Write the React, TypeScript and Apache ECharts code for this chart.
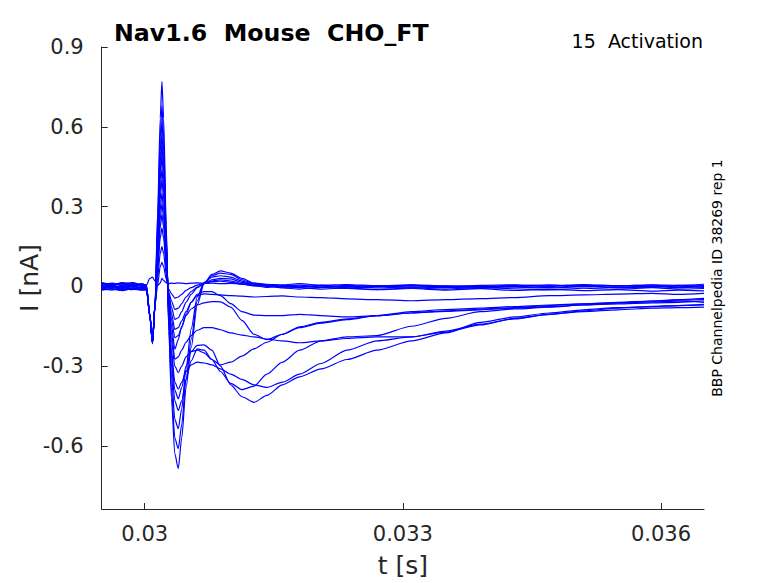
import React, { useEffect, useRef } from "react";
import * as echarts from "echarts";

// time grid in milliseconds
const T_MS = [
  29.5, 29.62, 29.74, 29.86, 29.97,
  30.02, 30.06, 30.09, 30.12, 30.15,
  30.18, 30.2, 30.22, 30.25, 30.28,
  30.31, 30.35, 30.39, 30.43, 30.48,
  30.54, 30.61, 30.69, 30.78, 30.88,
  31.0, 31.13, 31.27, 31.42, 31.6,
  31.8, 32.05, 32.35, 32.7, 33.1,
  33.5, 33.9, 34.3, 34.7, 35.1,
  35.5, 35.9, 36.2, 36.5,
];

// currents in nA, one array per sweep
const TRACE_01 = [
  0.01, 0.006, 0.012, 0.004, 0.008,
  0.005, 0.03, 0.035, 0.02, 0.004,
  0.012, 0.03, 0.022, 0.014, 0.01,
  0.012, 0.011, 0.013, 0.012, 0.01,
  0.012, 0.013, 0.011, 0.012, 0.01,
  0.011, 0.009, 0.012, 0.008, 0.006,
  0.01, 0.004, 0.007, 0.002, 0.005,
  0.0, 0.004, 0.006, 0.002, 0.005,
  0.001, 0.006, 0.004, 0.008,
];
const TRACE_02 = [
  -0.004, 0.002, -0.006, 0.0, -0.008,
  -0.004, -0.11, -0.205, -0.07, 0.006,
  0.074, 0.09, 0.074, 0.027, -0.011,
  -0.027, -0.044, -0.04, -0.03, -0.015,
  -0.005, 0.005, 0.012, 0.018, 0.02,
  0.015, 0.008, 0.002, 0.002, -0.003,
  0.001, -0.004, 0.0, -0.006, -0.002,
  -0.005, 0.001, -0.003, -0.006, -0.001,
  -0.004, 0.0, -0.005, -0.002,
];
const TRACE_03 = [
  0.006, 0.012, 0.004, 0.01, 0.002,
  0.0, -0.112, -0.212, -0.068, 0.03,
  0.123, 0.15, 0.123, 0.045, -0.022,
  -0.054, -0.087, -0.082, -0.065, -0.04,
  -0.02, -0.003, 0.01, 0.02, 0.025,
  0.02, 0.01, 0.003, -0.004, 0.003,
  -0.002, 0.005, -0.006, -0.001, 0.004,
  -0.003, -0.008, 0.0, -0.004, 0.003,
  -0.006, -0.002, 0.002, -0.004,
];
const TRACE_04 = [
  -0.01, -0.004, -0.012, -0.006, -0.01,
  -0.008, -0.108, -0.208, -0.072, 0.058,
  0.18, 0.22, 0.18, 0.066, -0.031,
  -0.077, -0.124, -0.118, -0.095, -0.06,
  -0.03, -0.005, 0.012, 0.025, 0.03,
  0.028, 0.015, 0.005, 0.0, -0.006,
  -0.01, -0.004, -0.008, -0.012, -0.006,
  -0.01, -0.004, -0.009, -0.013, -0.007,
  -0.011, -0.005, -0.01, -0.008,
];
const TRACE_05 = [
  0.002, -0.006, 0.0, -0.008, -0.002,
  -0.006, -0.114, -0.215, -0.066, 0.078,
  0.221, 0.27, 0.221, 0.081, -0.04,
  -0.1, -0.162, -0.155, -0.13, -0.095,
  -0.06, -0.035, -0.028, -0.03, -0.032,
  -0.035, -0.037, -0.04, -0.038, -0.036,
  -0.04, -0.042, -0.047, -0.05, -0.054,
  -0.05, -0.046, -0.042, -0.035, -0.032,
  -0.029, -0.026, -0.03, -0.026,
];
const TRACE_06 = [
  0.012, 0.006, 0.014, 0.008, 0.01,
  0.004, -0.106, -0.21, -0.074, 0.094,
  0.254, 0.31, 0.254, 0.093, -0.048,
  -0.12, -0.193, -0.185, -0.155, -0.105,
  -0.06, -0.03, -0.02, -0.02, -0.035,
  -0.065, -0.095, -0.108, -0.11, -0.11,
  -0.105, -0.11, -0.115, -0.11, -0.1,
  -0.092, -0.086, -0.08, -0.072, -0.066,
  -0.06, -0.055, -0.052, -0.05,
];
const TRACE_07 = [
  -0.006, 0.0, -0.008, -0.012, -0.004,
  -0.01, -0.11, -0.206, -0.07, 0.11,
  0.287, 0.35, 0.287, 0.105, -0.059,
  -0.146, -0.236, -0.2, -0.15, -0.11,
  -0.085, -0.07, -0.062, -0.057, -0.058,
  -0.078, -0.128, -0.18, -0.2, -0.18,
  -0.152, -0.135, -0.122, -0.11, -0.095,
  -0.087, -0.082, -0.076, -0.07, -0.066,
  -0.062, -0.058, -0.056, -0.06,
];
const TRACE_08 = [
  0.004, 0.01, 0.002, 0.006, 0.0,
  -0.002, -0.112, -0.213, -0.068, 0.13,
  0.328, 0.4, 0.328, 0.12, -0.068,
  -0.17, -0.274, -0.265, -0.24, -0.21,
  -0.185, -0.165, -0.155, -0.155, -0.163,
  -0.175, -0.183, -0.19, -0.198, -0.205,
  -0.212, -0.205, -0.196, -0.19, -0.19,
  -0.168, -0.142, -0.122, -0.105, -0.092,
  -0.082, -0.076, -0.072, -0.07,
];
const TRACE_09 = [
  -0.012, -0.008, -0.014, -0.006, -0.012,
  -0.01, -0.108, -0.209, -0.072, 0.146,
  0.361, 0.44, 0.361, 0.132, -0.081,
  -0.2, -0.3, -0.324, -0.3, -0.265,
  -0.245, -0.24, -0.25, -0.275, -0.32,
  -0.365, -0.388, -0.375, -0.33, -0.285,
  -0.24, -0.205, -0.19, -0.185, -0.15,
  -0.12, -0.095, -0.085, -0.078, -0.07,
  -0.062, -0.055, -0.05, -0.045,
];
const TRACE_10 = [
  0.008, 0.002, 0.01, 0.014, 0.006,
  0.002, -0.114, -0.211, -0.066, 0.166,
  0.402, 0.49, 0.402, 0.147, -0.095,
  -0.24, -0.36, -0.386, -0.36, -0.32,
  -0.295, -0.285, -0.288, -0.295, -0.31,
  -0.33, -0.35, -0.37, -0.38, -0.36,
  -0.33, -0.29, -0.24, -0.205, -0.19,
  -0.172, -0.145, -0.12, -0.105, -0.095,
  -0.088, -0.082, -0.08, -0.078,
];
const TRACE_11 = [
  -0.002, 0.004, -0.004, 0.002, -0.006,
  -0.008, -0.11, -0.214, -0.07, 0.182,
  0.435, 0.53, 0.435, 0.159, -0.106,
  -0.26, -0.39, -0.423, -0.38, -0.3,
  -0.245, -0.222, -0.22, -0.24, -0.3,
  -0.37, -0.415, -0.436, -0.41, -0.37,
  -0.34, -0.31, -0.275, -0.24, -0.205,
  -0.175, -0.135, -0.115, -0.1, -0.088,
  -0.08, -0.075, -0.072, -0.068,
];
const TRACE_12 = [
  0.014, 0.008, 0.006, 0.012, 0.004,
  0.0, -0.106, -0.207, -0.074, 0.198,
  0.467, 0.57, 0.467, 0.171, -0.12,
  -0.29, -0.43, -0.467, -0.43, -0.35,
  -0.28, -0.235, -0.24, -0.275, -0.295,
  -0.285, -0.262, -0.235, -0.21, -0.18,
  -0.155, -0.138, -0.125, -0.11, -0.1,
  -0.094, -0.088, -0.082, -0.076, -0.07,
  -0.066, -0.062, -0.06, -0.055,
];
const TRACE_13 = [
  -0.008, -0.014, -0.006, -0.01, -0.014,
  -0.012, -0.112, -0.21, -0.068, 0.218,
  0.508, 0.62, 0.508, 0.186, -0.134,
  -0.33, -0.5, -0.535, -0.46, -0.31,
  -0.16, -0.04, 0.015, 0.035, 0.04,
  0.035, 0.02, 0.008, 0.004, 0.0,
  -0.004, 0.002, -0.002, 0.003, -0.003,
  0.001, -0.005, 0.002, 0.006, -0.001,
  0.003, -0.003, 0.004, 0.001,
];
const TRACE_14 = [
  0.0, 0.006, 0.01, 0.0, 0.008,
  0.004, -0.108, -0.212, -0.072, 0.242,
  0.558, 0.68, 0.558, 0.204, -0.15,
  -0.38, -0.57, -0.61, -0.52, -0.35,
  -0.2, -0.055, 0.012, 0.04, 0.05,
  0.045, 0.025, 0.01, 0.006, 0.002,
  0.005, -0.002, 0.004, 0.0, 0.006,
  0.002, -0.001, 0.004, 0.0, 0.007,
  0.002, 0.005, -0.002, 0.003,
];
const TRACE_15 = [
  -0.014, -0.01, -0.016, -0.008, -0.012,
  -0.014, -0.114, -0.216, -0.066, 0.278,
  0.631, 0.77, 0.631, 0.231, -0.17,
  -0.42, -0.63, -0.685, -0.57, -0.38,
  -0.23, -0.07, 0.01, 0.045, 0.058,
  0.05, 0.03, 0.012, 0.003, -0.001,
  -0.005, -0.01, -0.006, -0.012, -0.008,
  -0.014, -0.009, -0.015, -0.011, -0.016,
  -0.012, -0.018, -0.014, -0.017,
];

const TRACES = [
  TRACE_01, TRACE_02, TRACE_03, TRACE_04, TRACE_05,
  TRACE_06, TRACE_07, TRACE_08, TRACE_09, TRACE_10,
  TRACE_11, TRACE_12, TRACE_13, TRACE_14, TRACE_15,
];

const X_TICKS = [0.03, 0.033, 0.036];
const Y_TICKS = [-0.6, -0.3, 0, 0.3, 0.6, 0.9];
const X_MIN = 0.0295;
const X_MAX = 0.0365;
const Y_MIN = -0.837;
const Y_MAX = 0.9;

const TITLE = "Nav1.6\u00a0\u00a0Mouse\u00a0\u00a0CHO_FT";
const SUBTITLE = "15\u00a0\u00a0Activation";
const SIDE_NOTE = "BBP Channelpedia ID 38269 rep 1";

export default function App() {
  const ref = useRef<HTMLDivElement>(null);
  useEffect(() => {
    if (!ref.current) return;
    const chart = echarts.init(ref.current, null, { renderer: "svg" });
    const font = "DejaVu Sans";
    const axisColor = "#262626";
    chart.setOption({
      animation: false,
      backgroundColor: "#ffffff",
      title: [
        {
          text: TITLE,
          left: 114,
          top: 21,
          padding: 0,
          textStyle: { fontFamily: font, fontSize: 23.7, fontWeight: "bold", color: "#000000" },
        },
        {
          text: SUBTITLE,
          right: 75,
          top: 31,
          padding: 0,
          textStyle: { fontFamily: font, fontSize: 19, fontWeight: "normal", color: "#000000" },
        },
      ],
      grid: { left: 101.7, right: 74, top: 47, bottom: 71, containLabel: false },
      xAxis: {
        type: "value",
        min: X_MIN,
        max: X_MAX,
        splitLine: { show: false },
        axisLine: { show: true, onZero: false, lineStyle: { color: axisColor, width: 1 } },
        axisTick: { show: true, inside: true, length: 6, customValues: X_TICKS, lineStyle: { color: axisColor } },
        axisLabel: {
          customValues: X_TICKS,
          color: axisColor,
          fontFamily: font,
          fontSize: 21,
          margin: 14,
          formatter: (v: number) => String(+v.toFixed(3)),
        },
        name: "t [s]",
        nameLocation: "middle",
        nameGap: 44,
        nameMoveOverlap: false,
        nameTextStyle: { fontFamily: font, fontSize: 25, color: axisColor },
      },
      yAxis: {
        type: "value",
        min: Y_MIN,
        max: Y_MAX,
        splitLine: { show: false },
        axisLine: { show: true, onZero: false, lineStyle: { color: axisColor, width: 1 } },
        axisTick: { show: true, inside: true, length: 6, customValues: Y_TICKS, lineStyle: { color: axisColor } },
        axisLabel: {
          customValues: Y_TICKS,
          color: axisColor,
          fontFamily: font,
          fontSize: 21,
          margin: 18,
          formatter: (v: number) => String(+v.toFixed(1)),
        },
        name: "I [nA]",
        nameLocation: "middle",
        nameGap: 60,
        nameMoveOverlap: false,
        nameTextStyle: { fontFamily: font, fontSize: 25, color: axisColor },
      },
      graphic: [
        {
          type: "text",
          x: 717,
          y: 278,
          rotation: Math.PI / 2,
          style: {
            text: SIDE_NOTE,
            fontFamily: font,
            fontSize: 14,
            fill: "#000000",
            align: "center",
            verticalAlign: "middle",
          },
        },
      ],
      series: TRACES.map((vals, i) => ({
        type: "line",
        name: "sweep " + (i + 1),
        data: T_MS.map((t, j) => [t / 1000, vals[j]]),
        showSymbol: false,
        symbol: "none",
        smooth: 0.25,
        smoothMonotone: "x",
        clip: true,
        silent: true,
        lineStyle: { color: "#0000ff", width: 1.2 },
        itemStyle: { color: "#0000ff" },
      })),
    });
    return () => chart.dispose();
  }, []);
  return (
    <div
      ref={ref}
      style={{ position: "absolute", left: 0, top: 0, width: 778, height: 583 }}
    />
  );
}
